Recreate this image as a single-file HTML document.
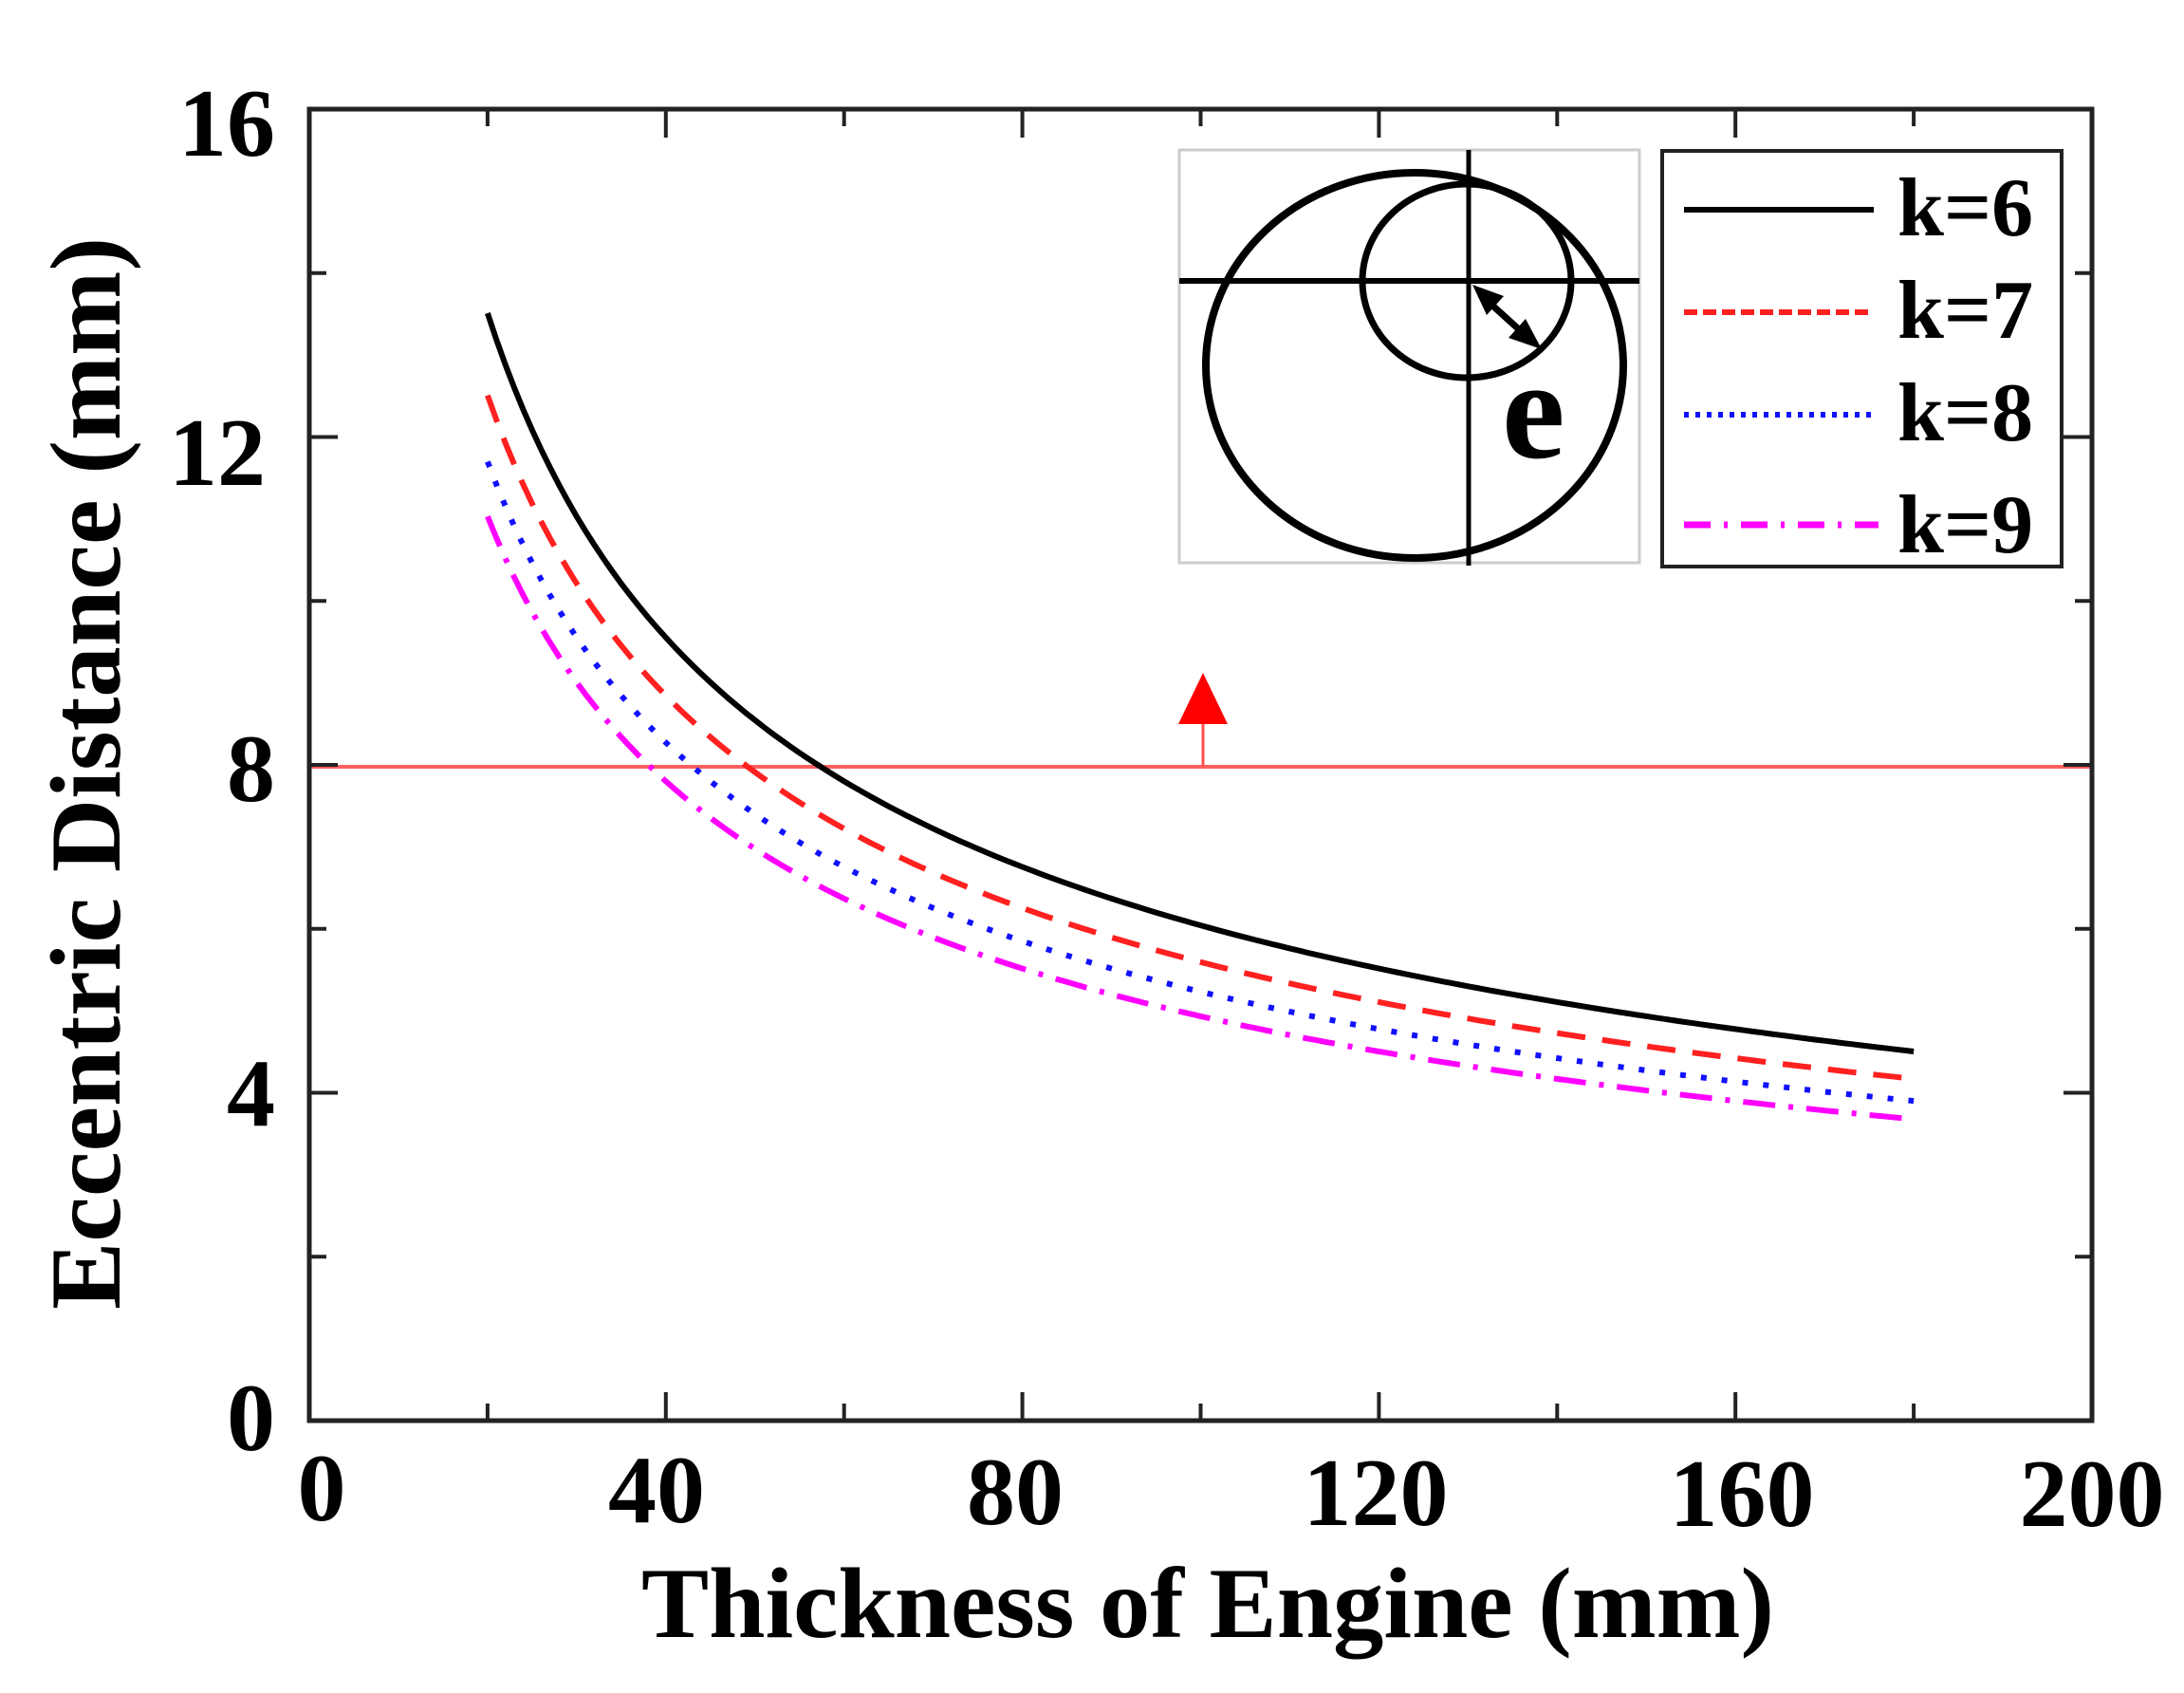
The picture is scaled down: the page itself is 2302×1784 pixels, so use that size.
<!DOCTYPE html>
<html><head><meta charset="utf-8"><style>
html,body{margin:0;padding:0;background:#fff;}
svg{display:block;}
text{font-family:"Liberation Serif",serif;font-weight:bold;fill:#000;}
</style></head><body>
<svg width="2302" height="1784" viewBox="0 0 2302 1784" xmlns="http://www.w3.org/2000/svg">
<rect width="2302" height="1784" fill="#fff"/>
<line x1="326" y1="808" x2="2205" y2="808" stroke="#ff6060" stroke-width="4"/>
<line x1="1268" y1="808" x2="1268" y2="760" stroke="#ff5050" stroke-width="3"/>
<polygon points="1268,709 1242,763 1294,763" fill="#ff0000"/>
<g fill="none" stroke-width="6" id="curves"></g>
<rect x="326" y="115" width="1879" height="1382" fill="none" stroke="#222" stroke-width="5"/>
<g id="ticks" stroke="#222" stroke-width="4"></g>
<g font-size="102" text-anchor="middle">
<text x="339" y="1602">0</text>
<text x="692" y="1604">40</text>
<text x="1070" y="1606">80</text>
<text x="1450" y="1607">120</text>
<text x="1836" y="1608">160</text>
<text x="2205" y="1608">200</text>
</g>
<g font-size="102" text-anchor="end">
<text x="290" y="1528">0</text>
<text x="290" y="1186">4</text>
<text x="290" y="844">8</text>
<text x="280" y="511">12</text>
<text x="290" y="164">16</text>
</g>
<text x="676" y="1725" font-size="106" textLength="1194" lengthAdjust="spacingAndGlyphs">Thickness of Engine (mm)</text>
<text transform="translate(126,1380) rotate(-90)" font-size="106" textLength="1130" lengthAdjust="spacingAndGlyphs">Eccentric Distance (mm)</text>
<rect x="1243" y="158" width="485" height="435" fill="#fff" stroke="#ccc" stroke-width="3"/>
<line x1="1243" y1="296" x2="1728" y2="296" stroke="#000" stroke-width="6"/>
<line x1="1548" y1="158" x2="1548" y2="596" stroke="#000" stroke-width="5"/>
<ellipse cx="1491" cy="385" rx="220" ry="203" fill="none" stroke="#000" stroke-width="8"/>
<ellipse cx="1546" cy="296" rx="110" ry="102" fill="none" stroke="#000" stroke-width="7"/>
<line x1="1560" y1="310" x2="1613" y2="358" stroke="#000" stroke-width="7"/>
<polygon points="1552,300 1585,312 1567,332" fill="#000"/>
<polygon points="1625,368 1590,356 1608,336" fill="#000"/>
<text x="1583" y="482" font-size="150">e</text>
<rect x="1752" y="159" width="421" height="438" fill="#fff" stroke="#222" stroke-width="4"/>
<line x1="1775" y1="221" x2="1975" y2="221" stroke="#000" stroke-width="6"/>
<line x1="1775" y1="329" x2="1975" y2="329" stroke="#ff2020" stroke-width="6" stroke-dasharray="14,6"/>
<line x1="1775" y1="437" x2="1975" y2="437" stroke="#1010ff" stroke-width="6" stroke-dasharray="5,7"/>
<line x1="1775" y1="553" x2="1980" y2="553" stroke="#ff00ff" stroke-width="7" stroke-dasharray="28,14,4,14"/>
<g font-size="88">
<text x="2000" y="248">k=6</text>
<text x="2000" y="356">k=7</text>
<text x="2000" y="464">k=8</text>
<text x="2000" y="582">k=9</text>
</g>
</svg>
<script>
(function(){
var ns="http://www.w3.org/2000/svg";
function X(v){return 326+v*9.395;}
function Y(v){return 1497-v*86.375;}
var g=document.getElementById('curves');
var ser=[[6,'#000',''],[7,'#ff2020','30,18'],[8,'#1010ff','6,16'],[9,'#ff00ff','34,14,5,14']];
ser.forEach(function(s){
 var d='';
 for(var x=20;x<=180.001;x+=1){
  var y=148/Math.sqrt(s[0]*x);
  d+=(x==20?'M':'L')+X(x).toFixed(1)+','+Y(y).toFixed(1);
 }
 var p=document.createElementNS(ns,'path');
 p.setAttribute('d',d);p.setAttribute('stroke',s[1]);
 if(s[2])p.setAttribute('stroke-dasharray',s[2]);
 g.appendChild(p);
});
var t=document.getElementById('ticks');
function ln(a,b,c,d){var l=document.createElementNS(ns,'line');l.setAttribute('x1',a);l.setAttribute('y1',b);l.setAttribute('x2',c);l.setAttribute('y2',d);t.appendChild(l);}
for(var v=20;v<200;v+=20){var L=(v%40==0)?30:18;ln(X(v),1497,X(v),1497-L);ln(X(v),115,X(v),115+L);}
for(var v=2;v<16;v+=2){var L=(v%4==0)?30:18;ln(326,Y(v),326+L,Y(v));ln(2205,Y(v),2205-L,Y(v));}
})();
</script>
</body></html>
